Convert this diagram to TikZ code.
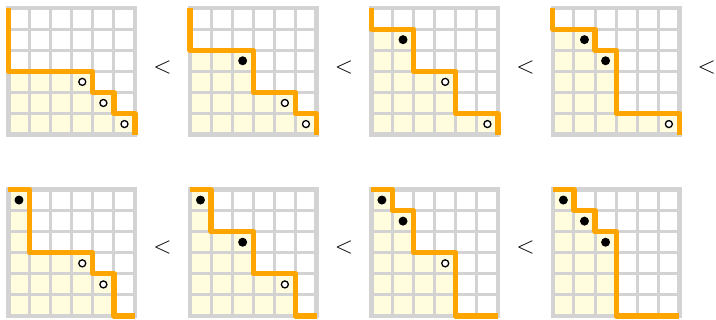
\documentclass[tikz,border=0pt]{standalone}
\usepackage{tikz}
\definecolor{gridgray}{RGB}{211,211,211}
\definecolor{lowyellow}{RGB}{255,253,222}
\definecolor{stairorange}{RGB}{255,165,0}
\begin{document}
\begin{tikzpicture}[x=10.55pt, y=-10.55pt,
                    lowfill/.style={fill=lowyellow},
                    cellline/.style={draw=gridgray, line width=1.5pt},
                    gridframe/.style={draw=gridgray, line width=2.25pt},
                    stair/.style={draw=stairorange, line width=2.6pt, line join=round},
                    opendot/.style={draw=black, fill=white, line width=0.65pt, radius=1.75pt},
                    fulldot/.style={fill=black, radius=2.25pt},
                    lt/.style={font=\fontsize{13}{15}\selectfont}]
\useasboundingbox (0pt,0pt) rectangle (358pt,-160pt);
\foreach \gx/\gy/\steps/\marks in {
  0.4/0.38/{(0,0)--(0,3)--(4,3)--(4,4)--(5,4)--(5,5)--(6,5)--(6,6)}/{3/opendot,4/opendot,5/opendot},
  9.0/0.38/{(0,0)--(0,2)--(3,2)--(3,4)--(5,4)--(5,5)--(6,5)--(6,6)}/{2/fulldot,4/opendot,5/opendot},
  17.6/0.38/{(0,0)--(0,1)--(2,1)--(2,3)--(4,3)--(4,5)--(6,5)--(6,6)}/{1/fulldot,3/opendot,5/opendot},
  26.2/0.38/{(0,0)--(0,1)--(2,1)--(2,2)--(3,2)--(3,5)--(6,5)--(6,6)}/{1/fulldot,2/fulldot,5/opendot},
  0.4/8.98/{(0,0)--(1,0)--(1,3)--(4,3)--(4,4)--(5,4)--(5,6)--(6,6)}/{0/fulldot,3/opendot,4/opendot},
  9.0/8.98/{(0,0)--(1,0)--(1,2)--(3,2)--(3,4)--(5,4)--(5,6)--(6,6)}/{0/fulldot,2/fulldot,4/opendot},
  17.6/8.98/{(0,0)--(1,0)--(1,1)--(2,1)--(2,3)--(4,3)--(4,6)--(6,6)}/{0/fulldot,1/fulldot,3/opendot},
  26.2/8.98/{(0,0)--(1,0)--(1,1)--(2,1)--(2,2)--(3,2)--(3,6)--(6,6)}/{0/fulldot,1/fulldot,2/fulldot}} {
  \begin{scope}[shift={(\gx,\gy)}]
    \fill[lowfill] \steps -- (0,6) -- cycle;
    \foreach \i in {1,...,5} {
      \draw[cellline] (\i,0) -- (\i,6);
      \draw[cellline] (0,\i) -- (6,\i);
    }
    \draw[gridframe] (0,0) rectangle (6,6);
    \draw[stair] \steps;
    \foreach \k/\t in \marks
      \path[\t] (\k+0.5,\k+0.5) circle;
  \end{scope}
}
% the order signs between the grids
\foreach \i/\x/\y in {1/7.7/3.18, 2/16.3/3.18, 3/24.9/3.18, 4/33.5/3.18,
                      5/7.7/11.73, 6/16.3/11.73, 7/24.9/11.73}
  \node[lt] (lt\i) at (\x,\y) {$<$};
\end{tikzpicture}
\end{document}
